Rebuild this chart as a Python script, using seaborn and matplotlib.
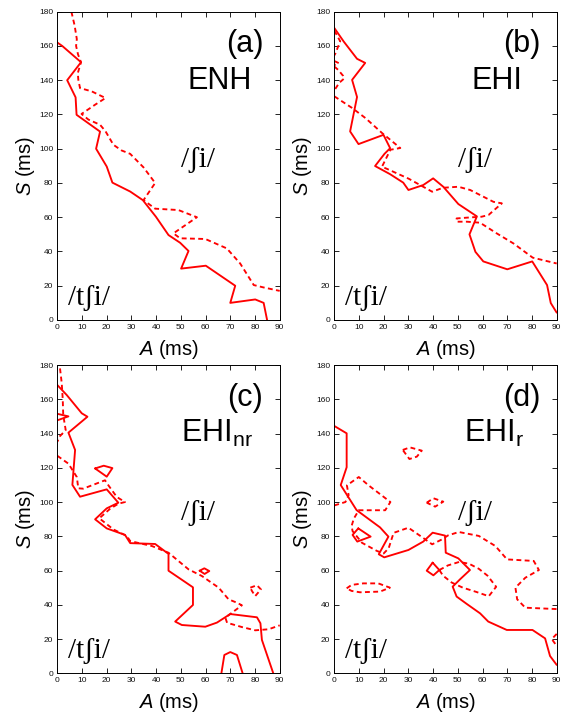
import numpy as np
import pandas as pd
import matplotlib
matplotlib.use("Agg")
import matplotlib.pyplot as plt
import seaborn as sns

# ---------------- (a) ENH ----------------
enh_solid_A = [0, 2, 9.6, 4, 7.4, 7.8, 17.3, 15.7, 20, 22.3, 29.5, 34.6, 39.9, 45, 49.7,
               53.1, 50.1, 60.1, 72, 70, 80.1, 83.5, 84.9]
enh_solid_S = [162, 160, 150.5, 140, 130, 119.8, 110, 100, 89.6, 80.2, 75, 70, 60.3, 49.6, 45.1,
               40.3, 30, 31.7, 20, 10, 12, 10, 0]
enh_dash_A = [5.7, 7, 7.9, 7.6, 8.4, 9.6, 8.3, 8.5, 9.2, 13.9, 19.5, 15.3, 9.8, 12.6, 17.3, 19.5,
              22.7, 26, 29.5, 34.9, 39.6, 34.9, 39.6, 49, 56.5, 47, 49.7, 59.9, 68.6, 74, 79.5,
              83.5, 90]
enh_dash_S = [180, 172, 164, 160, 155, 150.5, 144.2, 140.3, 135.4, 133.5, 129.6, 125.7, 120.3, 117,
              114, 110.2, 102.3, 99, 97, 89.1, 80, 70, 65, 64.2, 60, 50.6, 47.7, 47.3, 41.8, 33,
              20.4, 19, 17]

# ---------------- (b) EHI ----------------
ehi_solid_A = [0, 3.8, 9.2, 12.5, 7.2, 9.2, 6.4, 9.8, 19.9, 22.6, 20.3, 16.5, 22.5, 27.9, 30, 36,
               40, 44.1, 50.2, 57.7, 54.7, 57.1, 60.3, 70, 80.1, 86.1, 87.6, 90]
ehi_solid_S = [170.5, 162.6, 152.5, 150.1, 140.2, 130.2, 110.1, 102.7, 108.1, 100.3, 97, 89.9,
               85.2, 80.2, 75.9, 78.8, 82.7, 77.8, 67.7, 60.5, 50, 39.8, 34.2, 29.6, 34.2, 20.4,
               9.9, 4.3]
ehi_dash1_A = [0, 2.4, 0.4, 0]
ehi_dash1_S = [169, 162.7, 155.5, 154.5]
ehi_dash2_A = [0, 1.8, 0]
ehi_dash2_S = [151.2, 150, 148.8]
ehi_dash3_A = [0, 1.6, 3.6, 4, 2, 0]
ehi_dash3_S = [148, 146, 142.5, 141, 138.5, 134]
ehi_dash4_A = [0, 7.2, 12.6, 19.3, 26.7, 22.7, 19.3, 22, 30.1, 39.6, 44, 50.2, 55, 64.4, 67.8,
               62.4, 59.6, 55, 49.5, 49.5, 53.6, 59, 65.7, 72.5, 80.3, 90]
ehi_dash4_S = [130.6, 123.8, 117.9, 109.2, 100.4, 99.4, 89.5, 87.8, 82.5, 74.9, 77.2, 77.8, 75.9,
               69, 68.1, 61.3, 60.3, 59.9, 59.3, 57.4, 57.4, 56.8, 50.6, 44.7, 36.4, 33]

# ---------------- (c) EHI_nr ----------------
nr_solid1_A = [0, 3.8, 9.9, 12.2, 4.5, 7.2, 6.1, 9.2, 20, 24.7, 20, 15.3, 20, 27.4, 29.5, 39.6,
               45, 45, 54.9, 54.9, 47.7, 50.4, 59.9, 64.6, 70, 80.8, 82.2, 82.8, 87.4]
nr_solid1_S = [168.3, 162.5, 151.8, 149.8, 140.5, 130.4, 110, 103.1, 107.4, 99.6, 96.3, 89.9,
               84.6, 80.8, 76, 75.5, 69.7, 59.9, 50.2, 39.9, 30.2, 28.2, 27.2, 29.6, 34.6, 32.7,
               29.2, 19.5, 0]
nr_solid2_A = [0, 4.5, 0]
nr_solid2_S = [151.5, 150, 147.7]
nr_solid3_A = [15.3, 18.8, 22.3, 20, 15.3]
nr_solid3_S = [119.6, 121.2, 119.8, 114.8, 119.6]
nr_solid4_A = [57.6, 59.5, 61.5, 59.6, 57.6]
nr_solid4_S = [59.9, 61.3, 59.7, 58, 59.9]
nr_solid5_A = [66.4, 67.6, 70, 72.7, 75]
nr_solid5_S = [0, 10.7, 12.4, 10.7, 0]
nr_dash1_A = [1.1, 1.8, 2.2, 2.4, 3.4, 1.1, 0]
nr_dash1_S = [178, 169.3, 160, 150.8, 142, 138.5, 135.2]
nr_dash2_A = [0, 4.5, 7.9, 8.5, 10.5, 19.3, 20.7, 24.1, 27.4, 24.7, 21.4, 17, 22.7, 28.1, 29.5,
              38.3, 45, 53.1, 58.5, 65.3, 69.3, 72.7, 74.7, 68, 68.7, 74.7, 80.1, 85.5, 90]
nr_dash2_S = [127, 122.4, 114.6, 108, 107.8, 112.7, 109.7, 102.9, 100, 99, 96.1, 90.5, 84, 80.2,
              77.2, 74.3, 70.4, 60.7, 56.8, 50, 43.2, 41.2, 39.7, 32.5, 29.5, 27, 25.1, 25.7, 28]
nr_dash3_A = [78.1, 80.8, 82.4, 80.1, 78.8, 78.1]
nr_dash3_S = [50, 51.4, 49, 45.1, 48, 50]

# ---------------- (d) EHI_r ----------------
r_solid1_A = [0, 5, 5, 2.6, 9, 18.5, 21.9, 18, 20.2, 30, 36, 39.8, 44.8, 45.1, 50.2, 54.9, 50.9,
              47.9, 49.5, 53.6, 59, 62.3, 69.8, 80.2, 85.3, 87.3, 90]
r_solid1_S = [144.4, 140.1, 120.3, 109.9, 95.3, 85.2, 79.8, 69.5, 67.7, 72, 76.9, 82.1, 80.4,
              70.4, 67.1, 60.3, 54.9, 50.6, 44.8, 40.5, 35, 30.2, 25.3, 25.3, 20.4, 10.1, 4.9]
r_solid2_A = [9.7, 14.7, 9.3, 7.4, 9.7]
r_solid2_S = [84.6, 79.8, 76.9, 80.8, 84.6]
r_solid3_A = [39.8, 42.5, 40.1, 37.4, 39.8]
r_solid3_S = [64.6, 60.3, 57.2, 59.9, 64.6]
r_dash1_A = [27.7, 30.6, 35.4, 33.4, 30.4, 27.7]
r_dash1_S = [130.4, 131.9, 130, 126.5, 125.1, 130.4]
r_dash2_A = [37.4, 40.1, 44.1, 40.8, 37.4]
r_dash2_S = [99.6, 102.2, 100.2, 97.3, 99.6]
r_dash3_A = [0, 4.5, 5.8, 5.1, 9.9, 13.9, 22.7, 20.6, 9.9, 7.9, 7, 7.4, 11.2, 17.3, 20, 22, 24,
             30, 36, 39.6, 43.6, 46, 50.4, 58.5, 65.2, 69.9, 80.7, 82.8, 77.3, 73.3, 74, 77.3, 90]
r_dash3_S = [98, 100, 104, 109.7, 114.6, 109.7, 100, 95.2, 95.2, 90.3, 86, 83, 76.2, 71.4, 70, 73,
             82, 85, 79, 75.3, 78.2, 80.5, 82.5, 80.2, 74.3, 66.5, 65.6, 60.3, 55.8, 50, 43.2,
             38.3, 37.5]
r_dash4_A = [5, 7, 11.7, 17.8, 22.5, 18.5, 10.4, 7, 5]
r_dash4_S = [49.6, 51.6, 52.5, 52.5, 50, 47.7, 47.3, 48.1, 49.6]
r_dash5_A = [42.5, 46, 50.5, 54.5, 58.5, 62, 65.5, 62.5, 57.5, 52, 47.5, 44, 42.5]
r_dash5_S = [60.3, 63, 65, 64, 61, 57, 50.5, 45, 47.5, 50, 53, 57, 60.3]
r_dash6_A = [90, 88, 90]
r_dash6_S = [23, 20, 16]

panel_tags = ["(a)", "(b)", "(c)", "(d)"]
panel_names = ["ENH", "EHI", r"EHI$_{\mathrm{nr}}$", r"EHI$_{\mathrm{r}}$"]
x_ticks = list(range(0, 91, 10))
y_ticks = list(range(0, 181, 20))

panels = [
    [("solid", enh_solid_A, enh_solid_S), ("dashed", enh_dash_A, enh_dash_S)],
    [("solid", ehi_solid_A, ehi_solid_S), ("dashed", ehi_dash1_A, ehi_dash1_S),
     ("dashed", ehi_dash2_A, ehi_dash2_S), ("dashed", ehi_dash3_A, ehi_dash3_S),
     ("dashed", ehi_dash4_A, ehi_dash4_S)],
    [("solid", nr_solid1_A, nr_solid1_S), ("solid", nr_solid2_A, nr_solid2_S),
     ("solid", nr_solid3_A, nr_solid3_S), ("solid", nr_solid4_A, nr_solid4_S),
     ("solid", nr_solid5_A, nr_solid5_S), ("dashed", nr_dash1_A, nr_dash1_S),
     ("dashed", nr_dash2_A, nr_dash2_S), ("dashed", nr_dash3_A, nr_dash3_S)],
    [("solid", r_solid1_A, r_solid1_S), ("solid", r_solid2_A, r_solid2_S),
     ("solid", r_solid3_A, r_solid3_S), ("dashed", r_dash1_A, r_dash1_S),
     ("dashed", r_dash2_A, r_dash2_S), ("dashed", r_dash3_A, r_dash3_S),
     ("dashed", r_dash4_A, r_dash4_S), ("dashed", r_dash5_A, r_dash5_S),
     ("dashed", r_dash6_A, r_dash6_S)],
]

sns.set_theme(style="white")
plt.rcParams["font.family"] = ["Liberation Sans", "DejaVu Sans"]
plt.rcParams["mathtext.fontset"] = "custom"
plt.rcParams["mathtext.rm"] = "Liberation Sans"
plt.rcParams["mathtext.it"] = "Liberation Sans:italic"
plt.rcParams["mathtext.bf"] = "Liberation Sans:bold"
plt.rcParams["text.color"] = "black"
plt.rcParams["axes.labelcolor"] = "black"

fig = plt.figure(figsize=(5.65, 7.14), dpi=100)
fig.patch.set_facecolor("white")

W, H = 565.0, 714.0
ax_w, ax_h = 222.4 / W, 308.3 / H
lefts = [57.3 / W, 334.3 / W]
bottoms = [1 - 320.0 / H, 1 - 673.3 / H]
positions = [(lefts[0], bottoms[0]), (lefts[1], bottoms[0]),
             (lefts[0], bottoms[1]), (lefts[1], bottoms[1])]

ipa_family = ["Liberation Serif", "DejaVu Serif"]

for i, (curves, (l, b)) in enumerate(zip(panels, positions)):
    ax = fig.add_axes([l, b, ax_w, ax_h])
    rows = []
    for k, (kind, A, S) in enumerate(curves):
        for a_val, s_val in zip(A, S):
            rows.append({"A": a_val, "S": s_val, "curve": k, "kind": kind})
    df = pd.DataFrame(rows)
    sns.lineplot(data=df, x="A", y="S", units="curve", style="kind",
                 style_order=["solid", "dashed"],
                 dashes={"solid": "", "dashed": (2.6, 1.8)},
                 estimator=None, sort=False, color="#ff0000", linewidth=1.35,
                 legend=False, ax=ax)

    ax.set_xlim(0, 90)
    ax.set_ylim(0, 180)
    ax.set_xticks(x_ticks)
    ax.set_yticks(y_ticks)
    ax.tick_params(direction="in", length=3.5, width=0.6, color="black",
                   labelsize=6, pad=3, top=True, right=True,
                   bottom=True, left=True, labelcolor="#111111")
    for sp in ax.spines.values():
        sp.set_color("black")
        sp.set_linewidth(0.7)
    ax.set_facecolor("white")

    ax.set_xlabel(r"$A$ (ms)", fontsize=14.5)
    ax.set_ylabel(r"$S$ (ms)", fontsize=14.5)
    ax.xaxis.set_label_coords(0.5, -0.058)
    ax.yaxis.set_label_coords(-0.093, 0.5)

    ax.text(76, 161, panel_tags[i], fontsize=22, ha="center", va="center")
    ax.text(64.5 if i >= 2 else 65.8, 135, panel_names[i], fontsize=22,
            ha="center", va="baseline")
    ax.text(57, 89.5, "/\u0283i/", fontsize=21, ha="center", va="baseline",
            family=ipa_family)
    ax.text(13, 8.8, "/t\u0283i/", fontsize=21, ha="center", va="baseline",
            family=ipa_family)

fig.savefig("out.png", dpi=100, facecolor="white")
